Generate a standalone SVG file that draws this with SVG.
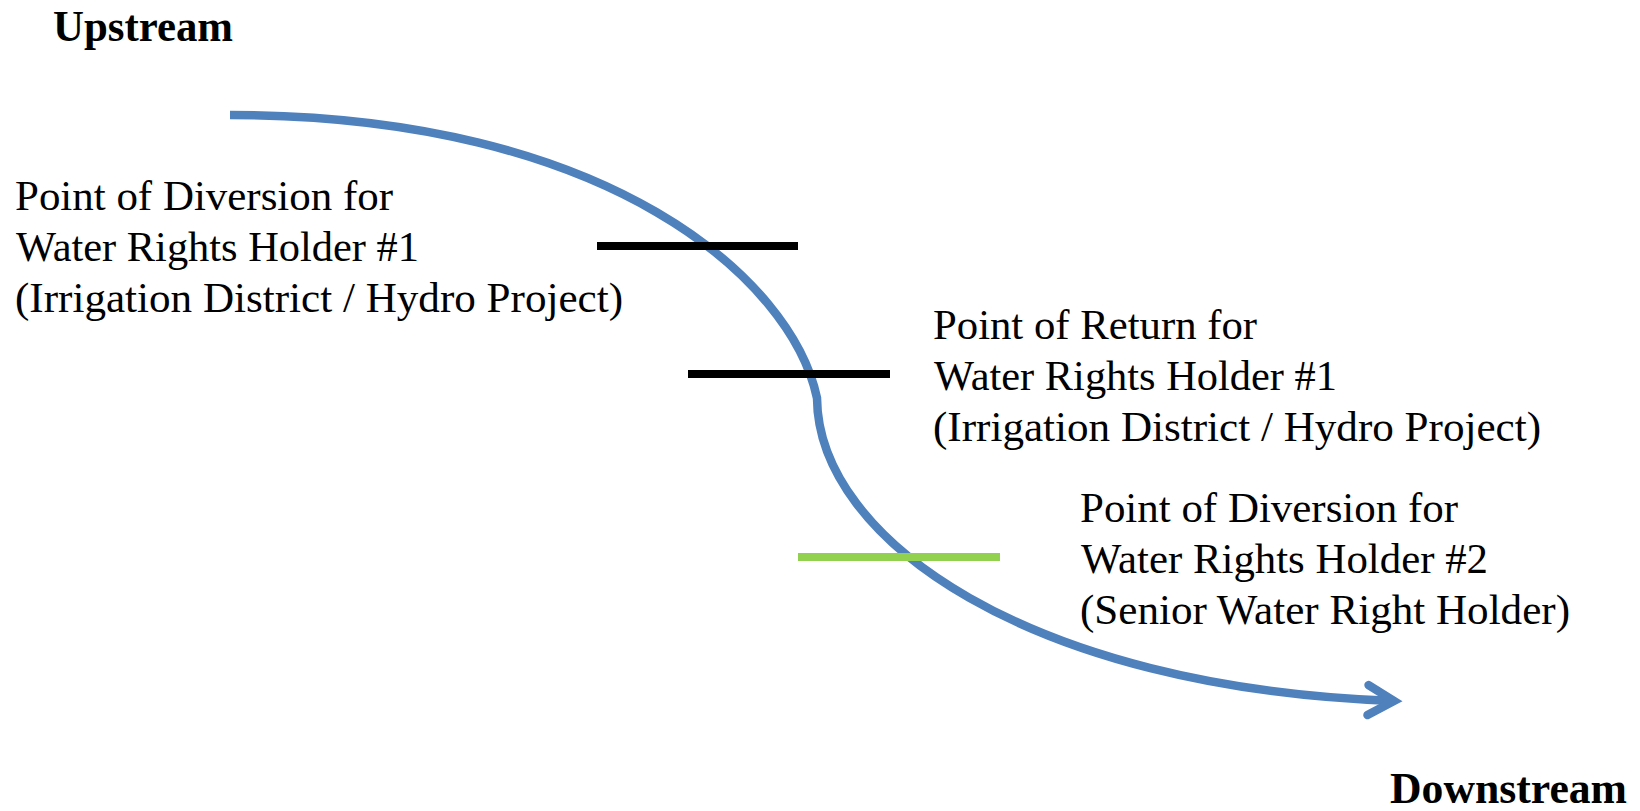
<svg xmlns="http://www.w3.org/2000/svg" width="1640" height="811" viewBox="0 0 1640 811">
<style>
.lbl{font-family:"Liberation Serif","Times New Roman",serif;font-size:42px;fill:#000}
.hdr{font-family:"Liberation Serif","Times New Roman",serif;font-size:44px;font-weight:bold;fill:#000}
.river{fill:none;stroke:#4F81BD;stroke-width:8.5}
.bar{stroke-width:8;fill:none}
</style>
<defs>
<marker id="chev" markerUnits="userSpaceOnUse" viewBox="-40 -25 50 50" refX="0" refY="0" markerWidth="50" markerHeight="50" orient="auto" overflow="visible">
<path d="M-26,-15 L0,0 L-26,15" fill="none" stroke="#4F81BD" stroke-width="8.5" stroke-linecap="round" stroke-linejoin="miter"/>
</marker>
</defs>
<rect width="1640" height="811" fill="#fff"/>
<g id="upstream"><text class="hdr" x="53" y="41" textLength="180" lengthAdjust="spacingAndGlyphs">Upstream</text></g>
<g id="downstream"><text class="hdr" x="1390" y="803" textLength="237" lengthAdjust="spacingAndGlyphs">Downstream</text></g>
<g id="connectors">
<path id="river" class="river" d="M230,115 C610,115 792,280 817,398 C818,540 1030,688 1394,701" marker-end="url(#chev)"/>
</g>
<g id="diversion1">
<line class="bar" x1="597" y1="246" x2="798" y2="246" stroke="#000"/>
<text class="lbl" x="15" y="210" textLength="378" lengthAdjust="spacingAndGlyphs">Point of Diversion for</text>
<text class="lbl" x="16" y="261" textLength="403" lengthAdjust="spacingAndGlyphs">Water Rights Holder #1</text>
<text class="lbl" x="15" y="312" textLength="608" lengthAdjust="spacingAndGlyphs">(Irrigation District / Hydro Project)</text>
</g>
<g id="return1">
<line class="bar" x1="688" y1="374" x2="890" y2="374" stroke="#000"/>
<text class="lbl" x="933" y="339" textLength="324" lengthAdjust="spacingAndGlyphs">Point of Return for</text>
<text class="lbl" x="934" y="390" textLength="403" lengthAdjust="spacingAndGlyphs">Water Rights Holder #1</text>
<text class="lbl" x="933" y="441" textLength="608" lengthAdjust="spacingAndGlyphs">(Irrigation District / Hydro Project)</text>
</g>
<g id="diversion2">
<line class="bar" x1="798" y1="557" x2="1000" y2="557" stroke="#92D050"/>
<text class="lbl" x="1080" y="522" textLength="378" lengthAdjust="spacingAndGlyphs">Point of Diversion for</text>
<text class="lbl" x="1081" y="573" textLength="407" lengthAdjust="spacingAndGlyphs">Water Rights Holder #2</text>
<text class="lbl" x="1080" y="624" textLength="490" lengthAdjust="spacingAndGlyphs">(Senior Water Right Holder)</text>
</g>
</svg>
